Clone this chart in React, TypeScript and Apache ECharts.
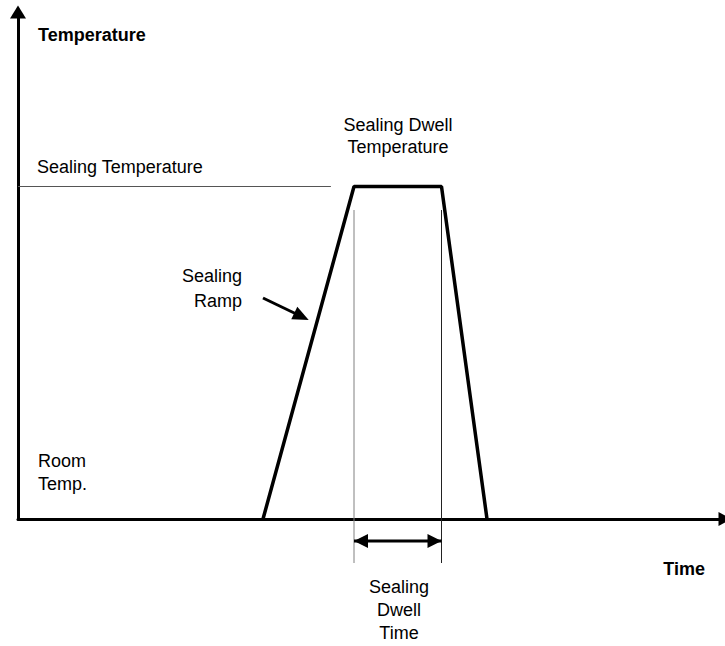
import React, { useEffect, useRef } from "react";
import * as echarts from "echarts";

// Heat-sealing profile (time in arbitrary units, temperature in arbitrary units)
const profileTime = [35, 48, 60.5, 67];
const profileTemp = [0, 66.5, 66.5, 0];
const sealingTempLevel = 66.5;
const sealingTempLineEnd = 44.7;
const dwellStart = 48;
const dwellEnd = 60.5;
const dwellGuideTop = 61.8;
const dwellGuideBottom = -8.8;
const dwellArrowLevel = -4.4;
const rampArrowFrom = [35, 44.2];
const rampArrowTo = [40.5, 40.5];
const timeMax = 101;
const tempMax = 101.4;

const FONT = '"Liberation Sans", Arial, sans-serif';

export default function App() {
  const ref = useRef<HTMLDivElement>(null);
  useEffect(() => {
    if (!ref.current) return;
    const chart = echarts.init(ref.current, undefined, { renderer: "svg" });
    const txt = (text: string, x: number, y: number, align: string, lh: number, bold = false) => ({
      type: "text",
      x,
      y,
      style: {
        text,
        fill: "#000",
        font: `${bold ? "bold " : ""}18px ${FONT}`,
        textAlign: align,
        textVerticalAlign: "middle",
        lineHeight: lh,
      },
    });
    const headW = 14;
    const headL = 14;
    chart.setOption({
      animation: false,
      backgroundColor: "#fff",
      grid: { left: 18, right: 0, top: 12, bottom: 127 },
      xAxis: {
        type: "value",
        min: 0,
        max: timeMax,
        axisLine: {
          show: true,
          symbol: ["none", "triangle"],
          symbolSize: [14, 13],
          lineStyle: { color: "#000", width: 3 },
        },
        axisTick: { show: false },
        axisLabel: { show: false },
        splitLine: { show: false },
      },
      yAxis: {
        type: "value",
        min: 0,
        max: tempMax,
        axisLine: {
          show: true,
          symbol: ["none", "triangle"],
          symbolSize: [16, 13],
          lineStyle: { color: "#000", width: 3 },
        },
        axisTick: { show: false },
        axisLabel: { show: false },
        splitLine: { show: false },
      },
      series: [
        {
          type: "line",
          data: profileTime.map((t, i) => [t, profileTemp[i]]),
          symbol: "none",
          clip: false,
          lineStyle: { color: "#000", width: 3.5 },
        },
        {
          type: "line",
          data: [
            [0, sealingTempLevel],
            [sealingTempLineEnd, sealingTempLevel],
          ],
          symbol: "none",
          clip: false,
          lineStyle: { color: "#555", width: 1 },
        },
        {
          type: "line",
          data: [
            [dwellStart, dwellGuideBottom],
            [dwellStart, dwellGuideTop],
          ],
          symbol: "none",
          clip: false,
          lineStyle: { color: "#808080", width: 1 },
        },
        {
          type: "line",
          data: [
            [dwellEnd, dwellGuideBottom],
            [dwellEnd, dwellGuideTop],
          ],
          symbol: "none",
          clip: false,
          lineStyle: { color: "#222", width: 1 },
        },
        {
          type: "line",
          clip: false,
          showSymbol: true,
          symbol: "triangle",
          symbolSize: [headW, headL],
          itemStyle: { color: "#000" },
          lineStyle: { color: "#000", width: 3 },
          data: [
            {
              value: [dwellStart, dwellArrowLevel],
              symbolRotate: 90,
              symbolOffset: [headL / 2, 0],
            },
            {
              value: [dwellEnd, dwellArrowLevel],
              symbolRotate: -90,
              symbolOffset: [-headL / 2, 0],
            },
          ],
        },
        {
          type: "line",
          data: [],
          clip: false,
          markLine: {
            silent: true,
            animation: false,
            label: { show: false },
            symbol: ["none", "triangle"],
            symbolSize: [14, 16],
            lineStyle: { color: "#000", width: 3, type: "solid" },
            data: [
              [
                { coord: rampArrowFrom, symbol: "none" },
                { coord: rampArrowTo, symbol: "triangle", symbolSize: [14, 16] },
              ],
            ],
          },
        },
      ],
      graphic: [
        txt("Temperature", 38, 35, "left", 22, true),
        txt("Sealing Temperature", 37, 167, "left", 22),
        txt("Sealing Dwell\nTemperature", 398, 136, "center", 22),
        txt("Sealing\nRamp", 242, 288, "right", 25),
        txt("Room\nTemp.", 38, 472, "left", 23),
        txt("Time", 705, 569, "right", 22, true),
        txt("Sealing\nDwell\nTime", 399, 610, "center", 23),
      ],
    });
    return () => chart.dispose();
  }, []);
  return (
    <div
      ref={ref}
      style={{ position: "fixed", left: 0, top: 0, width: 725, height: 646 }}
    />
  );
}
